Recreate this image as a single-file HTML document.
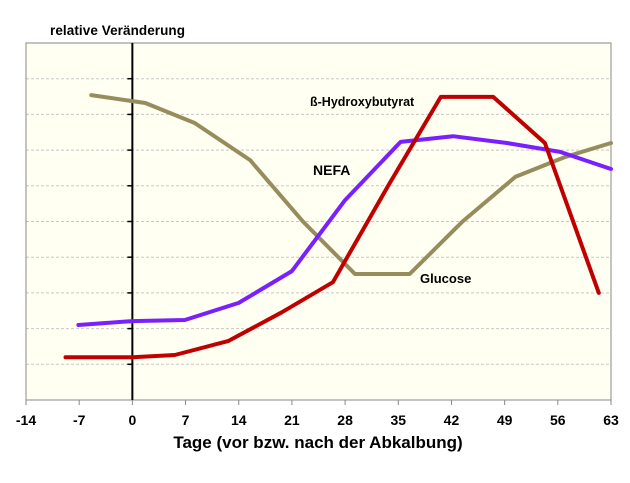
<!DOCTYPE html>
<html><head><meta charset="utf-8"><style>
body{margin:0;background:#fff;}
svg text{font-family:"Liberation Sans",Arial,sans-serif;font-weight:bold;}
</style></head><body>
<svg id="chart" width="630" height="478" viewBox="0 0 630 478" xmlns="http://www.w3.org/2000/svg">
<rect x="26" y="43" width="585" height="357" fill="#fffff2"/>
<g id="grid"></g>
<rect x="26" y="43" width="585" height="357" fill="none" stroke="#888" stroke-width="1"/>
<g id="axes"></g>
<g id="series"></g>
<text x="50" y="35" font-size="13.5" fill="#000" textLength="135">relative Veränderung</text>
<text x="318" y="448" font-size="17" text-anchor="middle" fill="#000">Tage (vor bzw. nach der Abkalbung)</text>
<text x="310" y="106" font-size="12.5" fill="#000">ß-Hydroxybutyrat</text>
<text x="313" y="175" font-size="14" fill="#000">NEFA</text>
<text x="420" y="283" font-size="13" fill="#000">Glucose</text>
</svg>
<script>
const xTicks=[-14,-7,0,7,14,21,28,35,42,49,56,63];
const glucoseX=[-5.4,1.7,8.2,15.5,22.5,29.3,36.5,43.4,50.4,57,63];
const glucoseY=[8.54,8.32,7.76,6.72,4.99,3.53,3.53,4.99,6.25,6.81,7.2];
const nefaX=[-7.1,0,6.9,14,21,28,35.3,42.2,49.3,56.3,63];
const nefaY=[2.1,2.21,2.24,2.72,3.61,5.6,7.23,7.39,7.2,6.95,6.47];
const bhbX=[-8.8,0,5.6,12.6,19.7,26.4,33.8,40.6,47.5,54.3,61.4];
const bhbY=[1.2,1.2,1.26,1.65,2.46,3.3,6.05,8.49,8.49,7.2,3.0];
const NS="http://www.w3.org/2000/svg";
const X0=26,X1=611,Y0=400,Y1=43;
const xs=d=>X0+(d+14)/77*(X1-X0);
const ys=v=>Y0-v/10*(Y0-Y1);
function mk(tag,attrs,parent){const e=document.createElementNS(NS,tag);for(const k in attrs)e.setAttribute(k,attrs[k]);parent.appendChild(e);return e;}
const grid=document.getElementById('grid'),axes=document.getElementById('axes'),series=document.getElementById('series');
for(let i=1;i<10;i++){
  const l=mk('line',{x1:X0,x2:X1,y1:ys(i),y2:ys(i),stroke:'#c8c8c8','stroke-dasharray':'3,2','stroke-width':1},grid);
  
  
  const t=mk('line',{x1:xs(0)-5,x2:xs(0),y1:ys(i),y2:ys(i),stroke:'#000','stroke-width':1.5},axes);
  
  
}
const za=mk('line',{x1:xs(0),x2:xs(0),y1:Y1,y2:Y0,stroke:'#000','stroke-width':2},axes);


xTicks.forEach(d=>{
  const t=mk('line',{x1:xs(d),x2:xs(d),y1:Y0,y2:Y0+5,stroke:'#888'},axes);
  
  
  const tx=mk('text',{x:xs(d),y:425,'font-size':14,'text-anchor':'middle',fill:'#000'},axes);
  tx.textContent=d;
  
  
});
function line(xa,ya,color,name){
  const pts=xa.map((d,i)=>xs(d).toFixed(1)+','+ys(ya[i]).toFixed(1)).join(' ');
  const p=mk('polyline',{points:pts,fill:'none',stroke:color,'stroke-width':4,'stroke-linejoin':'round','stroke-linecap':'round'},series);
  
  
}
line(glucoseX,glucoseY,'#978d5c','glucose-line');
line(nefaX,nefaY,'#7a1fff','nefa-line');
line(bhbX,bhbY,'#c00000','bhb-line');
</script>
</body></html>
